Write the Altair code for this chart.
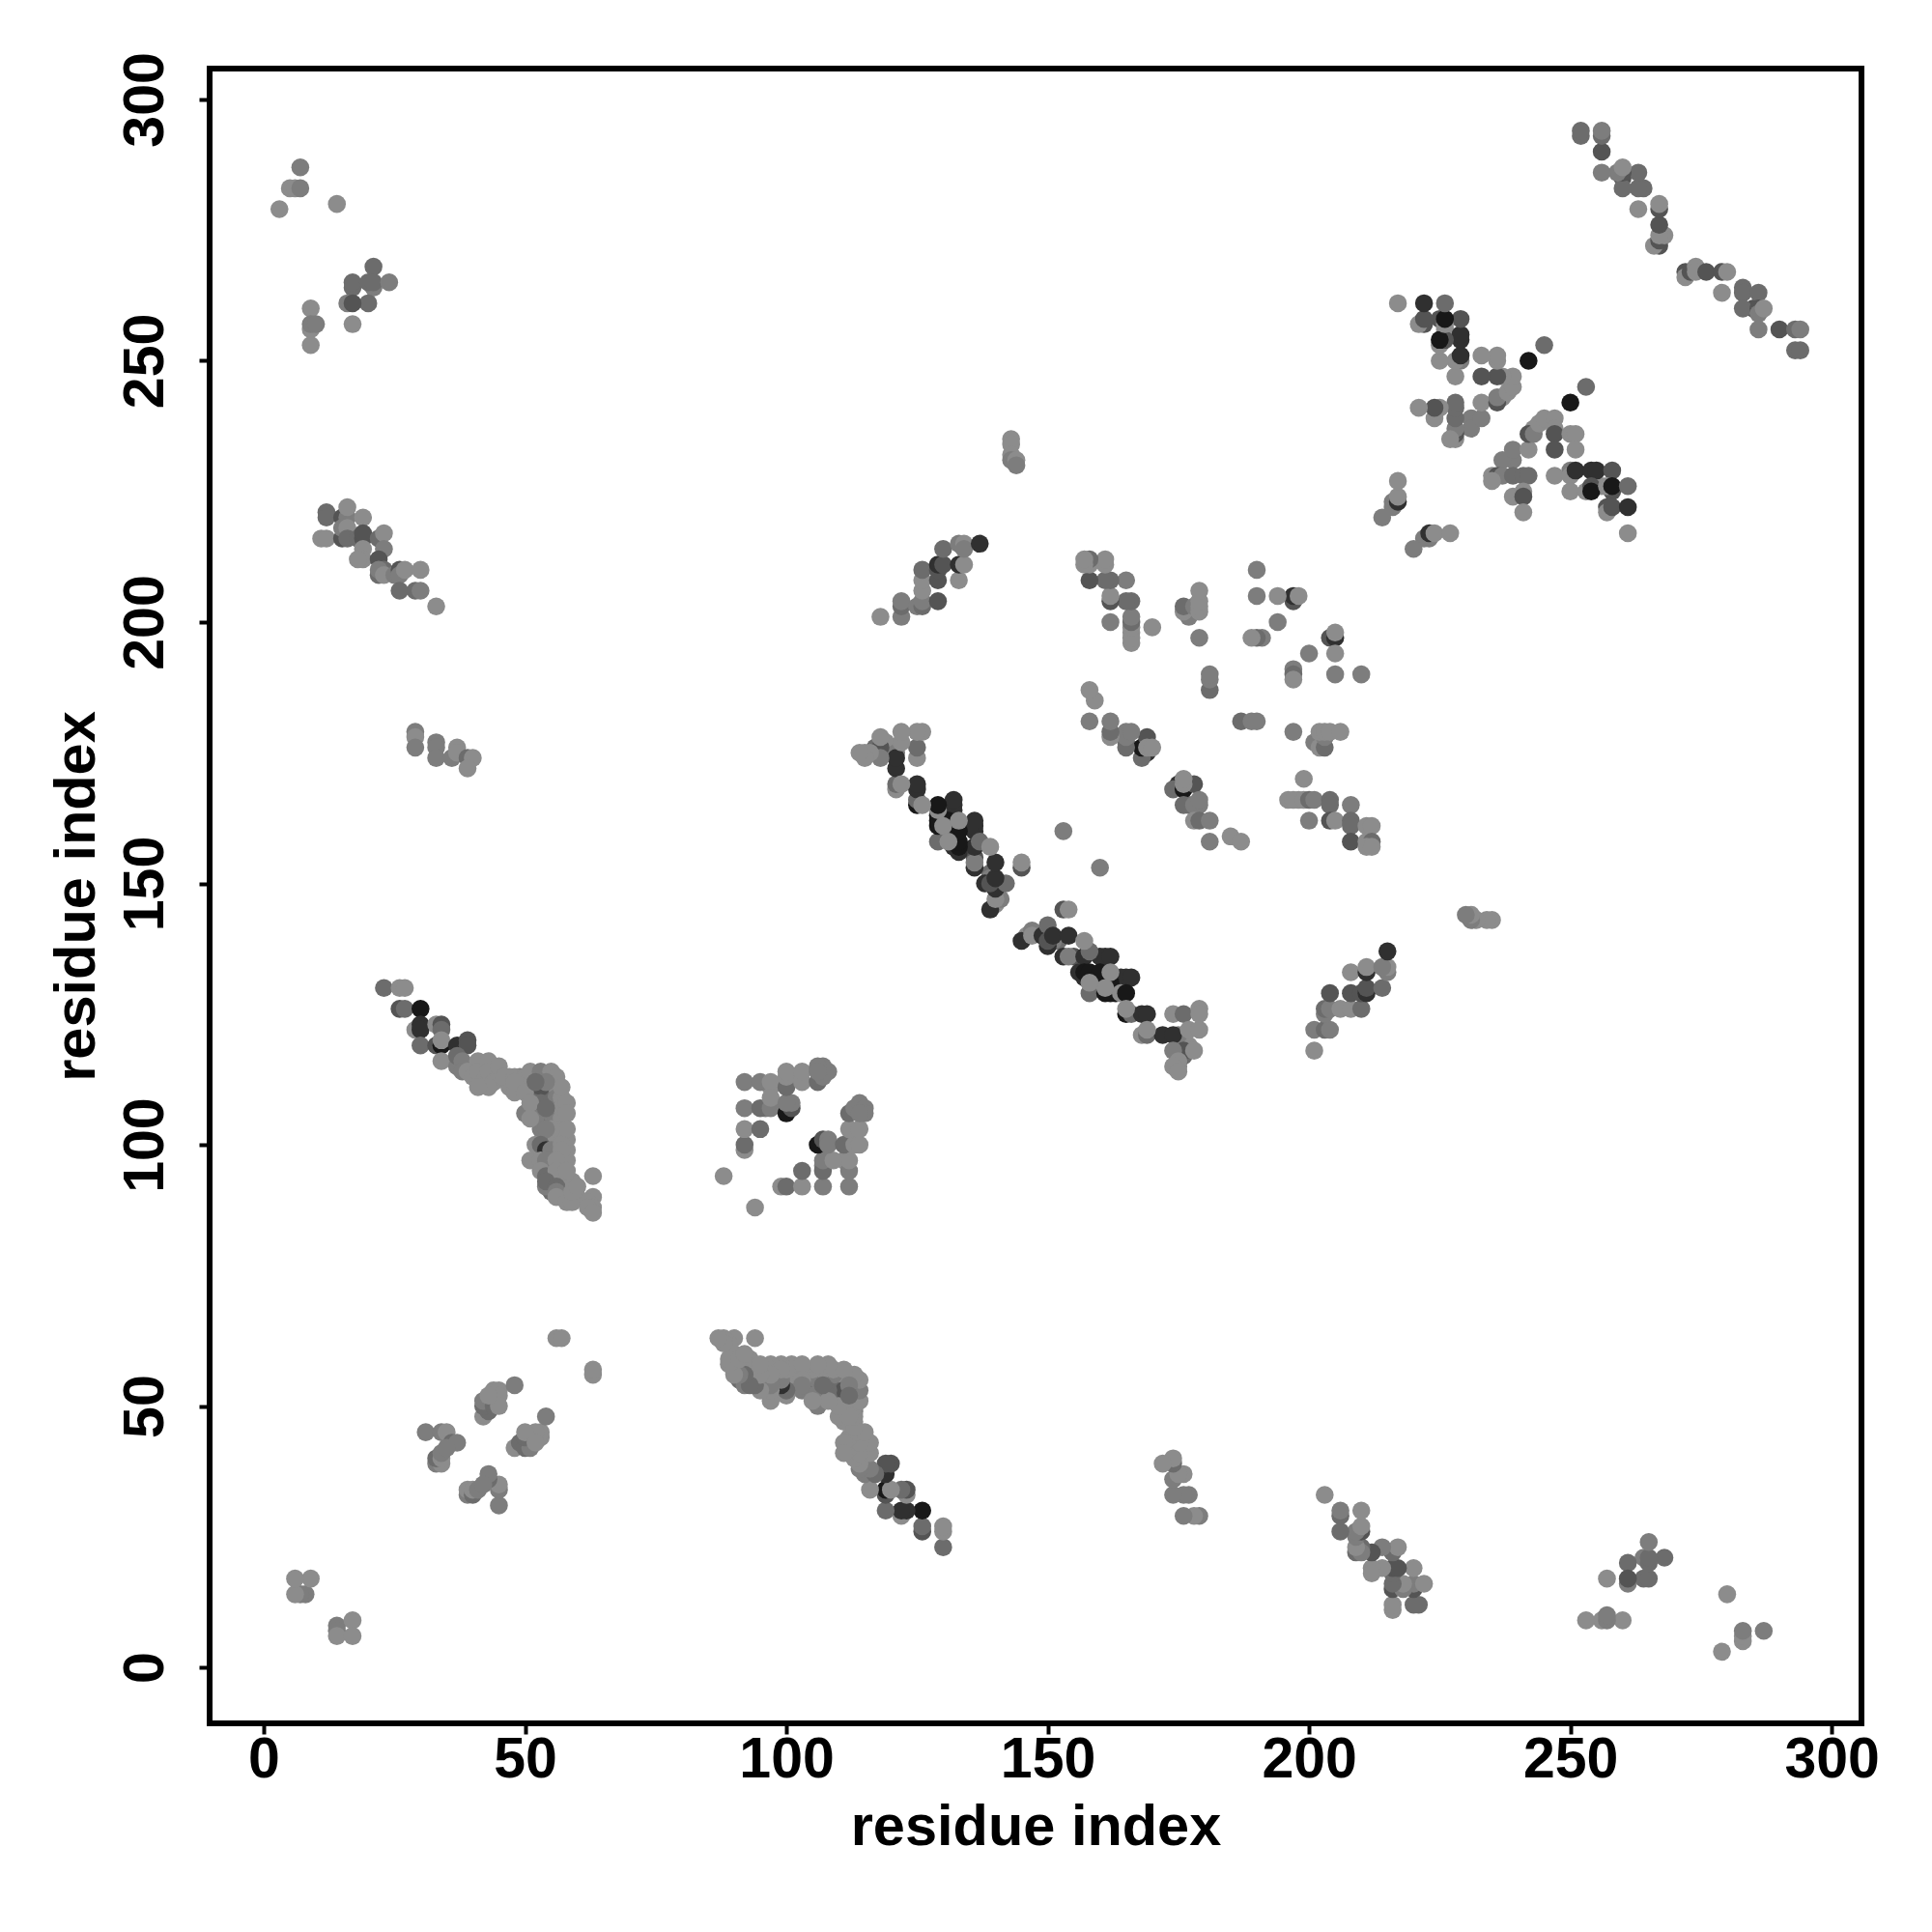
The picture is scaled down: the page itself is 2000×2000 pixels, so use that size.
import altair as alt
import pandas as pd

# Each entry: residue a, residue b, grey level of the contact.
L, G, M, D, K, B = 140, 125, 108, 84, 48, 24

corner_a = [(3,279,L),(5,283,L),(6,283,L),(7,283,G),(7,287,G),(14,280,L),(21,268,M),(17,264,M),(21,264,G),
            (16,261,G),(20,261,M),(17,261,D),(17,265,M),(20,265,M),(21,265,M),(24,265,G),(17,257,L),
            (9,260,L),(9,256,L),(9,257,G),(10,257,G),(9,253,L)]
corner_b = [(6,17,L),(9,17,L),(6,14,L),(7,14,L),(8,14,L),(14,8,G),(14,7,G),(14,6,L),(17,9,L),(17,6,L)]
helix_a = [(12,221,M),(12,220,M),(15,220,D),(16,220,G),(16,222,L),(19,220,L),(11,216,L),(12,216,L),
           (15,216,D),(15,218,G),(16,218,L),(16,216,M),(18,216,M),(19,216,D),(19,217,D),(22,216,M),(23,217,L),
           (23,214,G),(19,214,L),(19,212,L),(18,212,L),(22,212,D),(23,210,M),(22,209,M),(22,210,G),(23,209,L),
           (25,209,G),(26,210,D),(26,209,G),(27,210,L),(30,210,L),(26,206,M),(29,206,M),(30,206,G),(33,203,L)]
helix_b = [(29,179,G),(29,178,L),(29,176,G),(33,177,G),(33,176,G),(33,174,G),(36,174,G),(37,176,L),(37,175,L),
           (39,174,M),(40,174,L),(39,172,L)]
strand_fill = [(47,113,L),(49,113,G),(49,111,G),(47,111,L),(51,112,G),(51,110,M),(51,107,M),(52,110,M),(53,113,G),
               (53,105,M),(53,103,G),(55,112,G),(55,110,M),(55,108,M),(55,106,G),(56,111,L),(56,109,G),(56,107,G),
               (56,105,G),(57,109,L),(57,107,L),(57,105,L),(57,103,L),(55,101,G),(56,101,L),(57,101,L),(56,99,G),
               (58,101,L),(58,99,L),(58,97,L),(57,97,L),(57,95,L),(55,95,M),(56,93,G),(58,93,L),(58,91,L),(57,91,L),
               (59,93,L),(60,90,L),(55,93,M),(55,91,M)]
strand_a = [(23,130,M),(26,130,L),(27,130,L),(26,126,D),(27,126,M),(30,126,B),(29,122,L),(30,123,K),(30,122,K),
            (33,123,L),(34,123,D),(34,122,M),(30,119,M),(33,119,D),(34,119,B),(34,120,L),(34,116,L),
            (37,119,K),(39,120,D),(39,119,D),(37,115,G),(37,117,M),(38,116,G),(38,114,G),(39,114,L),(40,113,L),
            (41,116,L),(41,114,L),(42,112,L),(43,116,L),(43,114,L),(44,112,L),(45,113,L),(45,115,L),(46,113,L),
            (43,111,L),(41,111,L),(48,113,L),(50,113,L),(48,110,L),(48,112,L),(53,111,D),(53,108,M),(52,108,M),
            (50,106,G),(50,110,L),(52,105,G),(51,108,L),(51,114,L),(53,114,G),(55,114,L),(56,113,L),(57,111,L),
            (58,108,L),(58,106,L),(58,103,L),(55,103,L),(54,103,G),(54,112,G),(54,107,M),(52,112,M),(51,105,L),
            (52,100,L),(53,100,M),(54,99,K),(55,99,G),(57,100,L),(57,99,L),(51,97,L),(53,97,L),(54,97,G),(56,97,L),
            (53,95,L),(54,94,M),(56,95,L),(58,95,L),(54,92,G),(54,93,M),(56,92,M),(56,91,G),(56,90,L),(58,89,L),
            (59,89,L),(59,91,L),(60,92,L),(63,94,L),(63,90,L),(62,89,L),(63,88,L),(62,88,L),(63,87,L),
            (56,63,L),(57,63,L)]
sheet_a = [(92,112,L),(95,112,L),(97,112,L),(100,114,L),(100,112,M),(103,114,L),(103,112,L),(106,112,L),
           (106,115,L),(107,115,L),(108,114,L),(107,113,L),(97,111,L),(97,109,L),(92,107,G),(95,107,M),(96,107,G),
           (97,107,G),(100,106,K),(100,107,M),(101,108,L),(92,103,L),(95,103,M),(92,100,M),(92,99,G),(88,94,L),
           (94,88,L),(99,92,L),(100,92,M),(103,92,L),(103,95,M),(107,92,G),(107,95,M),(107,97,G),(112,92,G),
           (112,95,G),(112,97,L),(109,97,L),(106,100,B),(107,101,D),(108,101,G),(108,100,G),(111,100,M),
           (113,100,L),(114,100,L),(112,103,L),(114,103,L),(112,106,M),(113,107,G),(114,108,G),(115,107,G),
           (115,106,G),(114,106,G)]
barrel_a = [(31,45,G),(34,45,G),(35,45,L),(33,39,G),(34,39,L),(33,40,M),(34,40,L),(34,41,G),(36,43,M),(37,43,G),
            (35,42,G),(42,48,L),(43,49,M),(42,50,M),(42,51,G),(44,50,M),(44,52,L),(44,53,L),(45,53,L),(45,52,L),
            (45,50,L),(43,52,L),(48,54,G)]
upper_a = [(118,201,L),(122,201,G),(122,203,M),(122,204,G),(125,203,G),(126,203,M),(126,204,G),(129,204,D),
           (126,206,L),(126,208,L),(129,208,D),(133,208,L),(126,210,M),(129,210,D),(129,211,K),(130,211,D),
           (133,211,K),(134,211,L),(130,214,M),(133,215,G),(134,215,L),(134,214,G),(137,215,K),(143,235,L),
           (143,234,L),(143,232,L),(143,231,G),(144,231,L),(144,230,G)]
anti_a = [(114,175,L),(115,175,L),(118,174,D),(118,178,L),(117,176,M),(119,177,L),(122,179,G),(122,177,M),
          (121,175,G),(125,179,L),(126,179,L),(125,176,M),(125,174,L),(121,174,K),(121,172,K),(121,168,G),
          (122,169,L),(125,169,B),(125,168,K),(125,165,B),(126,165,L),(129,165,B),(132,165,K),(129,163,B),
          (129,162,B),(130,161,L),(129,158,M),(132,161,K),(131,160,K),(132,158,L),(133,162,G),(133,160,B),
          (133,157,B),(132,157,K),(136,161,K),(136,160,K),(137,158,M),(139,157,L),(136,157,K),(136,155,D),
          (136,153,K),(140,154,K),(139,152,M),(139,151,G),(138,150,K),(140,150,L),(142,150,M),(145,154,L),
          (145,153,D),(141,147,L),(140,146,L),(139,145,B),(153,160,G),(153,145,D),(154,145,L),(145,139,K),
          (147,141,G),(147,140,L),(149,140,K),(150,142,M),(150,139,D),(151,140,K),(154,140,K),(153,136,K),
          (154,136,G),(157,139,L),(158,137,G),(157,136,K),(160,136,K),(161,136,K),(162,136,K),(156,133,K),
          (157,133,B),(158,133,B),(160,133,B),(162,133,L),(164,132,K),(165,132,K),(166,132,K),(158,129,M),
          (158,131,L),(161,129,B),(162,129,B),(162,131,B),(164,129,L),(165,129,B),(165,125,B),(165,126,L),
          (166,125,M),(168,125,K),(169,125,K),(174,125,L),(176,125,M),(179,126,L),(179,125,L),(168,121,L),
          (169,122,L),(169,121,M),(172,121,K),(174,121,K),(177,122,L),(179,122,L),(176,118,D),(178,118,L),
          (174,118,G),(175,116,L),(174,115,L),(175,114,L)]
parallel_a = [(157,212,L),(158,212,M),(157,211,L),(158,211,M),(161,212,L),(161,211,G),(158,208,D),(161,208,M),
              (162,208,M),(165,208,G),(162,204,D),(162,205,L),(165,204,M),(166,204,M),(162,200,G),(166,201,G),
              (166,199,L),(166,198,L),(166,196,L),(170,199,L),(176,203,M),(176,202,G),(177,201,M),(178,202,L),
              (179,206,L),(179,204,L),(179,202,L),(179,197,G),(181,190,G),(181,189,G),(181,187,M),
              (158,187,L),(159,185,L),(158,181,L),(162,181,L),(162,179,M),(162,178,L),(165,179,G),(166,179,G),
              (165,177,M),(165,176,D),(169,178,D),(168,176,B),(168,174,M),(169,177,M),(170,176,L),
              (175,169,K),(174,168,M),(176,168,B),(176,169,L),(176,170,G),(178,169,D),(176,165,M),(178,165,G),
              (179,166,G),(178,162,L),(179,162,M),(181,162,G),(181,158,G),(185,159,L),(187,158,L),(160,153,G)]
outer_a = [(190,210,G),(190,205,G),(194,205,L),(197,204,M),(197,205,D),(198,205,L),(194,200,G),(189,197,G),
           (190,197,M),(191,197,G),(187,181,M),(189,181,G),(190,181,G),(200,194,G),(204,197,D),(205,197,K),
           (205,198,L),(205,194,L),(205,190,G),(210,190,G),(197,191,G),(197,190,M),(197,189,L),(197,179,G),
           (201,177,G),(202,176,L),(203,176,M),(203,178,G),(202,179,L),(203,179,L),(204,179,L),(206,179,L),
           (199,170,L),(196,166,L),(197,166,L),(199,166,L),(200,166,M),(201,166,G),(204,166,M),(204,165,M),
           (208,165,G),(200,162,G),(204,162,D),(205,162,L),(208,162,M),(208,161,M),(208,158,D),(211,161,L),
           (212,161,L),(211,158,L),(212,158,M),(211,157,L),(212,157,L)]
cross_a = [(217,261,L),(222,261,K),(226,261,G),(221,257,L),(222,257,D),(222,258,D),(225,258,D),(226,258,B),
           (229,258,D),(226,256,L),(225,254,B),(226,254,M),(229,255,K),(229,254,K),(225,250,L),(228,250,L),
           (229,250,G),(229,251,K),(228,247,L),(233,251,G),(236,251,L),(236,250,L),(233,247,D),(236,247,D),
           (237,247,L),(239,247,L),(242,250,B),(245,253,M),(239,245,L),(238,244,L),(237,243,L),(236,242,K),
           (236,243,G),(233,242,L),(221,241,L),(224,241,M),(225,241,L),(228,242,M),(228,241,M),(224,239,L),
           (228,239,G),(231,239,L),(233,239,G),(231,237,M),(228,235,D),(228,236,G),(227,235,L),(217,227,L),
           (217,224,L),(217,223,K),(216,223,G),(214,220,G),(222,216,G),(223,217,K),(224,217,L),(227,217,L),
           (220,214,G),(239,231,G),(237,231,G),(235,228,L),(236,228,D),(237,228,G),(239,228,M),(235,227,L),
           (241,228,M),(242,228,M),(239,224,L),(241,225,L),(241,224,D),(241,221,L),(239,233,G),(242,233,L),
           (242,236,D),(243,236,G),(244,238,L),(245,239,L),(247,239,L),(247,237,L),(247,236,D),(247,233,D),
           (247,228,L),(250,228,L),(250,236,L),(251,236,L),(251,233,L),(250,242,B),(253,245,M),(251,229,K),
           (254,229,K),(255,229,K),(258,229,D),(250,225,L),(253,225,L),(254,226,D),(254,225,B),(257,226,L),
           (258,226,B),(261,226,M),(257,222,D),(257,221,L),(258,222,D),(261,222,K),(261,217,L)]
terminal_a = [(252,294,G),(252,293,G),(256,293,D),(256,294,G),(256,290,D),(256,286,G),(259,286,L),(260,285,D),
              (260,287,L),(263,286,M),(260,283,M),(263,283,M),(264,283,M),(263,279,G),(267,279,D),(267,280,M),
              (267,276,D),(267,272,D),(267,274,L),(268,274,L),(266,272,L),(272,266,L),(273,267,D),(274,268,L),
              (274,267,L),(276,267,D),(279,267,D),(280,267,L),(279,263,L),(283,264,M),(283,263,M),(283,260,M),
              (286,263,M),(286,260,D),(286,259,G),(287,260,L),(286,256,G),(290,256,D),(293,256,M),(294,256,G),
              (293,252,M),(294,252,M)]
# Pale contacts that sit on top of the dark ones along the central band.
overlay_a = [(133,162,G),(130,161,L),(131,158,L),(137,158,M),(139,157,L),(158,131,L),(162,133,L),(126,165,L),
             (122,169,L),(165,126,L),(176,169,L),(205,198,L),(198,205,L),(170,176,L)]

groups = [corner_a, corner_b, helix_a, helix_b, strand_fill, strand_a, sheet_a, barrel_a, upper_a, anti_a,
          parallel_a, outer_a, cross_a, terminal_a, overlay_a]

rows = {}
for group in groups:
    for a, b, g in group:
        for key in [(a, b), (b, a)]:
            rows.pop(key, None)
            rows[key] = g
df = pd.DataFrame([{"x": k[0], "y": k[1], "c": "#{0:02x}{0:02x}{0:02x}".format(v)} for k, v in rows.items()])

ticks = [0, 50, 100, 150, 200, 250, 300]
FONT = "Liberation Sans"

chart = (
    alt.Chart(df)
    .mark_circle(size=345, opacity=1)
    .encode(
        x=alt.X("x:Q", scale=alt.Scale(domain=[-10.35, 305.7], nice=False, zero=False),
                axis=alt.Axis(values=ticks, title="residue index", grid=False, domain=False, tickColor="black",
                              tickWidth=4, tickSize=11, labelFont=FONT, labelFontWeight="bold", labelFontSize=59,
                              labelColor="black", labelPadding=26, labelBaseline="middle", labelFlush=False,
                              titleFont=FONT, titleFontWeight="bold", titleFontSize=59.5, titleColor="black",
                              titleY=107, titleBaseline="middle")),
        y=alt.Y("y:Q", scale=alt.Scale(domain=[-10.7, 305.9], nice=False, zero=False),
                axis=alt.Axis(values=ticks, title="residue index", grid=False, domain=False, tickColor="black",
                              tickWidth=4, tickSize=11, labelFont=FONT, labelFontWeight="bold", labelFontSize=59,
                              labelColor="black", labelAngle=270, labelAlign="center", labelBaseline="middle",
                              labelPadding=56, labelFlush=False, labelOverlap=False,
                              titleFont=FONT, titleFontWeight="bold", titleFontSize=59.5, titleColor="black",
                              titleX=-138, titleBaseline="middle", titleAngle=270)),
        color=alt.Color("c:N", scale=None, legend=None),
    )
    .properties(width=1710, height=1713,
                autosize=alt.AutoSizeParams(type="none"),
                padding={"left": 209, "top": 63, "right": 60, "bottom": 200})
    .configure_view(stroke="black", strokeWidth=6, fill="white")
)
chart.save("out.html", embed_options={"renderer": "svg", "actions": False})
